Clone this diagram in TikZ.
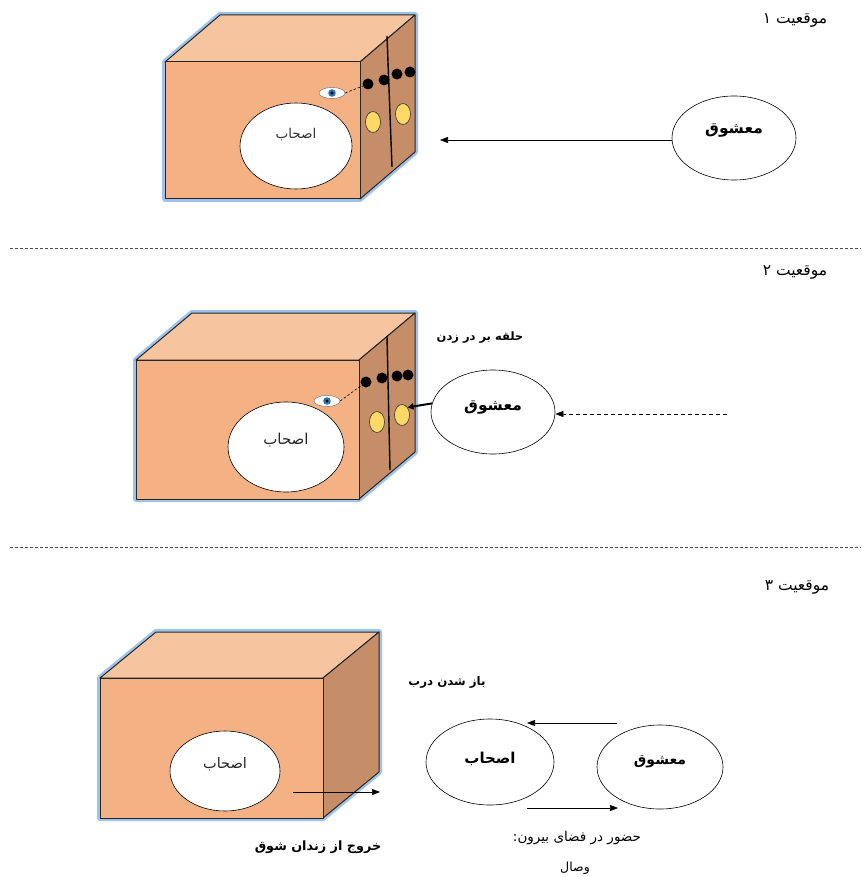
\documentclass[tikz,border=0pt]{standalone}
\usepackage{fontspec}
\usetikzlibrary{shapes.geometric,arrows.meta}
\newfontfamily\arabicfont[Script=Arabic]{DejaVu Sans}
\TeXXeTstate=1
\newcommand\fa[1]{\beginR #1\endR}
\definecolor{frontc}{RGB}{244,177,131}
\definecolor{topc}{RGB}{246,196,158}
\definecolor{sidec}{RGB}{197,142,104}
\definecolor{glowc}{RGB}{125,175,228}
\definecolor{knobc}{RGB}{255,217,102}
\definecolor{irisc}{RGB}{46,117,182}
\newcommand\mycube[6]{%
  \draw[glow] (#1,{#2+#4}) -- (#1,#2) -- ({#1+#5},{#2-#6}) -- ({#1+#3+#5},{#2-#6}) -- ({#1+#3+#5},{#2+#4-#6}) -- ({#1+#3},{#2+#4}) -- cycle;
  \filldraw[fill=topc, edge] (#1,#2) -- ({#1+#5},{#2-#6}) -- ({#1+#3+#5},{#2-#6}) -- ({#1+#3},#2) -- cycle;
  \filldraw[fill=sidec, edge] ({#1+#3},#2) -- ({#1+#3+#5},{#2-#6}) -- ({#1+#3+#5},{#2+#4-#6}) -- ({#1+#3},{#2+#4}) -- cycle;
  \filldraw[fill=frontc, edge] (#1,#2) rectangle ({#1+#3},{#2+#4});
}
\tikzset{
  glow/.style={draw=glowc, line width=6pt, line join=round, opacity=0.75},
  edge/.style={draw=black!85, line width=1pt, line join=round},
  ell/.style={ellipse, draw, fill=white, inner sep=0pt, line width=0.6pt},
  arab/.style={font=\arabicfont\fontsize{#1}{#1}\selectfont, inner sep=1pt},
  arabb/.style={font=\arabicfont\bfseries\fontsize{#1}{#1}\selectfont, inner sep=1pt},
  dotk/.style={circle, fill=black, minimum size=11pt, inner sep=0pt},
  knob/.style={ellipse, draw=black!80, fill=knobc, minimum width=15pt, minimum height=21pt, inner sep=0pt, line width=0.6pt},
  arr/.style={-{Triangle[length=8pt,width=6pt]}, line width=0.6pt},
  sep/.style={dashed, dash pattern=on 3pt off 2pt, line width=0.5pt, black!70}
}
\begin{document}
\begin{tikzpicture}[x=1pt,y=-1pt]
\useasboundingbox (0,0) rectangle (861,877);
% separators
\draw[sep] (10,248) -- (861,248);
\draw[sep] (10,547) -- (861,547);
% ---------- section 1 ----------
\node[arab=15.5] (t1) at (795,20) {\fa{موقعیت ۱}};
\mycube{165}{62}{195}{137}{55}{47}
\draw[line width=1.4pt] (387,36) -- (392,167);
\node[dotk] (d11) at (368,84) {};
\node[dotk] (d12) at (384,80) {};
\node[dotk] (d13) at (397,74) {};
\node[dotk] (d14) at (410,72) {};
\node[knob] (k11) at (373,122) {};
\node[knob] (k12) at (403,114) {};
\node[ellipse, draw=black!60, fill=white, minimum width=26pt, minimum height=11pt, inner sep=0pt] (e1) at (332,93) {};
\fill[irisc] (332,93) circle (3.8pt);
\fill[black] (332,93) circle (1.7pt);
\draw[dashed, dash pattern=on 2.5pt off 2pt, line width=0.6pt] (e1.east) -- (d11);
\node[ell, minimum width=112pt, minimum height=86pt] (a1) at (296,146) {};
\node[arab=13.5, black!80] (a1t) at (296,135) {\fa{اصحاب}};
\node[ell, minimum width=124pt, minimum height=84pt] (m1) at (734,138) {};
\node[arabb=15.5] (m1t) at (734,130) {\fa{معشوق}};
\coordinate (c1) at (440,140);
\draw[arr] (c1 -| m1.west) -- (c1);
% ---------- section 2 ----------
\node[arab=15.5] (t2) at (795,272) {\fa{موقعیت ۲}};
\mycube{136}{360}{223}{139}{56}{47}
\draw[line width=1.4pt] (387,336) -- (390,470);
\node[dotk] (d21) at (366,382) {};
\node[dotk] (d22) at (382,378) {};
\node[dotk] (d23) at (397,376) {};
\node[dotk] (d24) at (408,375) {};
\node[knob] (k21) at (377,422) {};
\node[knob] (k22) at (402,415) {};
\node[ellipse, draw=black!60, fill=white, minimum width=26pt, minimum height=11pt, inner sep=0pt] (e2) at (327,401) {};
\fill[irisc] (327,401) circle (3.8pt);
\fill[black] (327,401) circle (1.7pt);
\draw[dashed, dash pattern=on 2.5pt off 2pt, line width=0.6pt] (e2.east) -- (d21);
\node[ell, minimum width=116pt, minimum height=90pt] (a2) at (286,447) {};
\node[arab=15, black!85] (a2t) at (286,440) {\fa{اصحاب}};
\node[arabb=11.5] (h2) at (480,338) {\fa{حلقه بر در زدن}};
\node[ell, minimum width=124pt, minimum height=84pt] (m2) at (493,412) {};
\node[arabb=15.5] (m2t) at (493,407) {\fa{معشوق}};
\draw[-{Triangle[length=6pt,width=6pt]}, line width=2pt] (m2.172) -- (k22.north east);
\coordinate (c2) at (727,414);
\draw[arr, dashed, dash pattern=on 4pt off 3pt] (c2) -- (c2 -| m2.east);
% ---------- section 3 ----------
\node[arab=15.5] (t3) at (797,587) {\fa{موقعیت ۳}};
\mycube{100}{678}{223}{140}{56}{46}
\node[ell, minimum width=110pt, minimum height=80pt] (a3) at (225,771) {};
\node[arab=14.5, black!85] (a3t) at (225,764) {\fa{اصحاب}};
\coordinate (c3a) at (293,792);
\coordinate (c3b) at (380,792);
\draw[arr] (c3a) -- (c3b);
\node[arabb=12.8] (x3) at (318,847) {\fa{خروج از زندان شوق}};
\node[arabb=11.8] (b3) at (447,682) {\fa{باز شدن درب}};
\node[ell, minimum width=128pt, minimum height=86pt] (o3) at (490,762) {};
\node[arabb=15] (o3t) at (490,759) {\fa{اصحاب}};
\node[ell, minimum width=126pt, minimum height=84pt] (m3) at (660,767) {};
\node[arabb=14] (m3t) at (660,762) {\fa{معشوق}};
\coordinate (c3c) at (617,723);
\coordinate (c3d) at (527,723);
\draw[arr] (c3c) -- (c3d);
\coordinate (c3e) at (527,808);
\coordinate (c3f) at (618,808);
\draw[arr] (c3e) -- (c3f);
\node[arab=13.5] (p3) at (577,838) {\fa{حضور در فضای بیرون:}};
\node[arab=12.5] (v3) at (575,868) {\fa{وصال}};
\end{tikzpicture}
\end{document}
